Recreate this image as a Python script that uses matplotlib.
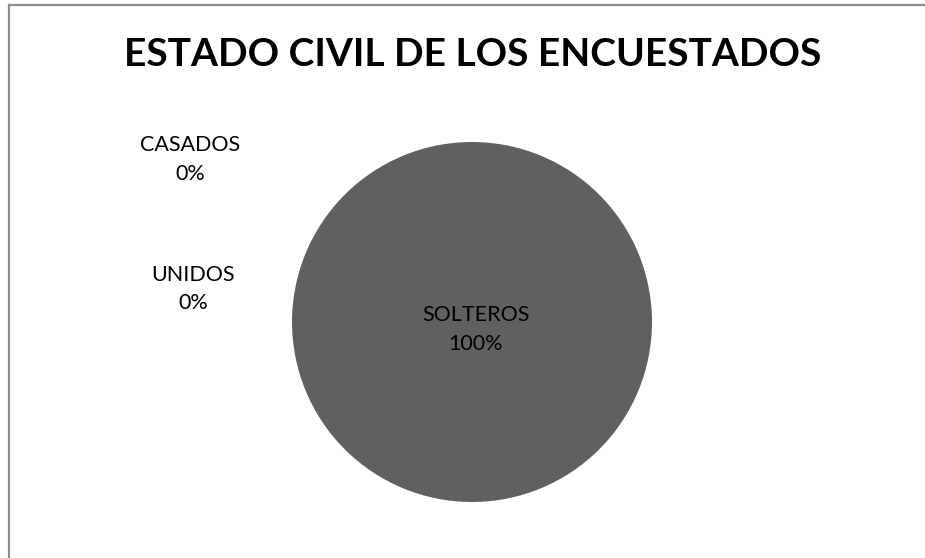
import matplotlib
matplotlib.use("Agg")
import matplotlib.pyplot as plt
from matplotlib.lines import Line2D

# datos
categorias = ["CASADOS", "UNIDOS", "SOLTEROS"]
valores = [0, 0, 100]
porcentajes = ["0%", "0%", "100%"]
titulo = "ESTADO CIVIL DE LOS ENCUESTADOS"

plt.rcParams['font.family'] = ['Lato', 'DejaVu Sans']

fig = plt.figure(figsize=(9.25, 5.58), dpi=100)
fig.patch.set_facecolor("white")

# marco (solo arriba e izquierda visibles)
fig.add_artist(Line2D([8.5/925, 1.0], [1 - 4.5/558, 1 - 4.5/558],
                      color="#8c8c8c", linewidth=1.6, transform=fig.transFigure))
fig.add_artist(Line2D([8.5/925, 8.5/925], [0.0, 1 - 4.5/558],
                      color="#8c8c8c", linewidth=1.6, transform=fig.transFigure))

fig.text(472.5/925, 1 - 55/558, titulo, ha="center", va="center",
         fontsize=28, fontweight="bold", color="black")

ax = fig.add_axes([(472 - 180)/925, (236 - 180)/558, 360/925, 360/558])
wedges, _ = ax.pie(valores, colors=["#4f81bd", "#c0504d", "#606060"],
                   startangle=90, counterclock=False, radius=1.0)
for w in wedges:
    w.set_linewidth(0)
ax.set_xlim(-1, 1)
ax.set_ylim(-1, 1)
ax.set_aspect("equal")
ax.axis("off")

# posiciones de etiquetas (coordenadas de datos)
pos_etiquetas = [(-1.567, 0.905), (-1.55, 0.183), (0.022, -0.04)]
for cat, pct, (x, y) in zip(categorias, porcentajes, pos_etiquetas):
    ax.text(x, y, f"{cat}\n{pct}", ha="center", va="center", fontsize=15.5,
            color="black", linespacing=1.55, clip_on=False)

fig.savefig("out.png", dpi=100)
